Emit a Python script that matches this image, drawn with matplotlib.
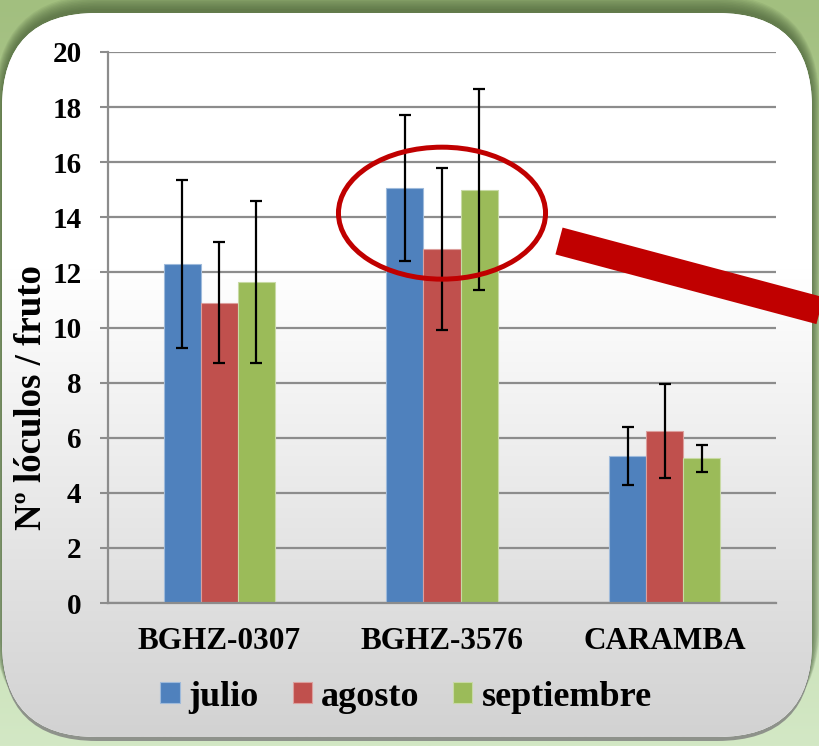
"""
Nº lóculos por fruto: bar chart with error bars, three accessions, three months.
"""
import numpy as np
import matplotlib
matplotlib.use("Agg")
import matplotlib.pyplot as plt
from matplotlib.patches import FancyBboxPatch, Ellipse
from matplotlib.lines import Line2D
from matplotlib.colors import to_rgb

categories = ["BGHZ-0307", "BGHZ-3576", "CARAMBA"]
months = ["julio", "agosto", "septiembre"]
julio = [12.3, 15.05, 5.35]
julio_err = [3.05, 2.65, 1.05]
agosto = [10.9, 12.85, 6.25]
agosto_err = [2.2, 2.95, 1.7]
septiembre = [11.65, 15.0, 5.25]
septiembre_err = [2.95, 3.65, 0.5]
yticks = [0, 2, 4, 6, 8, 10, 12, 14, 16, 18, 20]

colors = ["#4f81bd", "#c0504d", "#9bbb59"]
FONT = "Liberation Serif"
W, H = 819, 746


def vgrad(c_top, c_bot, n=256):
    t = np.linspace(0, 1, n)[:, None]
    a, b = np.array(to_rgb(c_top)), np.array(to_rgb(c_bot))
    return (a[None, :] * (1 - t[..., None]) + b[None, :] * t[..., None]).reshape(n, 1, 3)


def main():
    fig = plt.figure(figsize=(W / 100, H / 100), dpi=100)

    # background: green surround, shadow and rounded white panel
    bg = fig.add_axes([0, 0, 1, 1], zorder=-5)
    bg.set_xlim(0, W)
    bg.set_ylim(H, 0)
    bg.axis("off")
    bg.imshow(vgrad("#a2bf7f", "#d3e8c5"), extent=[0, W, H, 0], aspect="auto", zorder=0)

    px, py, pw, ph, r = 2, 13, 810, 724, 95
    # dark green halo, strongest along the top edge
    for i in range(10):
        grow = 1 + i * 1.6
        sh = FancyBboxPatch((px - grow * 0.5, py - 3 - grow), pw + grow, ph + grow,
                            boxstyle=f"round,pad=0,rounding_size={r + grow}",
                            fc="#3f5630", ec="none", alpha=0.09, zorder=1)
        bg.add_patch(sh)
    bsh = FancyBboxPatch((px, py + 4), pw, ph, boxstyle=f"round,pad=0,rounding_size={r}",
                         fc="#7d7d7d", ec="none", alpha=0.8, zorder=1.5)
    bg.add_patch(bsh)
    panel = FancyBboxPatch((px, py), pw, ph, boxstyle=f"round,pad=0,rounding_size={r}",
                           fc="white", ec="none", zorder=2)
    bg.add_patch(panel)
    g = np.vstack([np.ones((90, 1, 3)), vgrad("#ffffff", "#d2d2d2", 166)])
    im = bg.imshow(g, extent=[px, px + pw, py + ph, py], aspect="auto", zorder=3)
    im.set_clip_path(panel)

    # chart
    ax = fig.add_axes([108 / W, 1 - 603 / H, 668 / W, 551 / H])
    ax.set_facecolor("none")
    x = np.arange(len(categories))
    w = 1 / 6
    series = [(julio, julio_err), (agosto, agosto_err), (septiembre, septiembre_err)]
    for i, (vals, errs) in enumerate(series):
        edge = tuple(0.55 * np.array(to_rgb(colors[i])) + 0.45)
        ax.bar(x + (i - 1) * w, vals, w, yerr=errs, color=colors[i], edgecolor=edge,
               linewidth=0.8, label=months[i], zorder=2,
               error_kw=dict(ecolor="black", elinewidth=1.6, capsize=4.5, capthick=1.6, zorder=3))

    ax.set_xlim(-0.5, 2.5)
    ax.set_ylim(0, 20)
    ax.set_yticks(yticks)
    ax.set_xticks(x)
    ax.set_xticklabels(categories, fontfamily=FONT, fontweight="bold", fontsize=22.5)
    ax.set_yticklabels([str(v) for v in yticks], fontfamily=FONT, fontweight="bold", fontsize=21)
    ax.tick_params(axis="x", length=0, pad=17)
    ax.tick_params(axis="y", length=6, width=1.5, color="#8c8c8c", pad=13)
    ax.yaxis.grid(True, color="#8c8c8c", linewidth=1.6)
    ax.set_axisbelow(True)
    for s in ["top", "right"]:
        ax.spines[s].set_visible(False)
    for s in ["left", "bottom"]:
        ax.spines[s].set_color("#8c8c8c")
        ax.spines[s].set_linewidth(1.6)

    ax.set_ylabel("Nº lóculos / fruto", fontfamily=FONT, fontweight="bold", fontsize=26.5)
    ax.yaxis.set_label_coords(-0.088, 0.372)

    ax.legend(loc="center", bbox_to_anchor=(406 / W, 1 - 697 / H),
              bbox_transform=fig.transFigure, ncol=3, frameon=False,
              prop=dict(family=FONT, weight="bold", size=26),
              handlelength=0.53, handleheight=0.53, handletextpad=0.25,
              columnspacing=0.94, borderaxespad=0)

    # highlight on BGHZ-3576
    ax.add_patch(Ellipse((1.0, 14.15), 0.93, 4.79, fill=False, ec="#c00000",
                         lw=3.6, zorder=5, clip_on=False))
    fig.add_artist(Line2D([559 / W, 840 / W], [1 - 241 / H, 1 - 316 / H],
                          transform=fig.transFigure, color="#c00000", lw=20,
                          solid_capstyle="butt", zorder=6))

    fig.savefig("out.png", dpi=100)


if __name__ == "__main__":
    main()
